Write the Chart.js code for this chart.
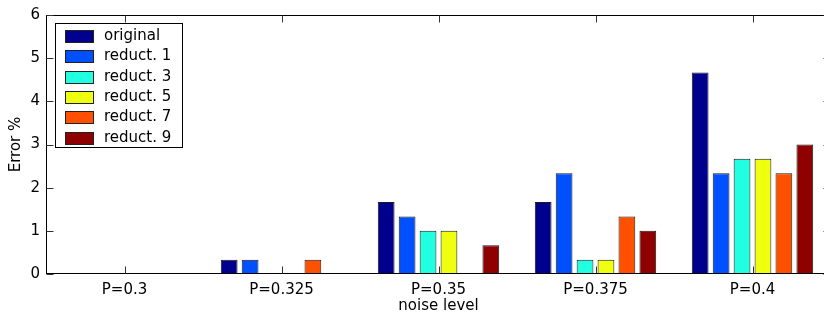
<!DOCTYPE html>
<html>
<head>
<meta charset="utf-8">
<script src="https://cdn.jsdelivr.net/npm/chart.js@4/dist/chart.umd.min.js"></script>
<style>
    html, body { margin: 0; padding: 0; background: #fff; overflow: hidden; }
    #wrap { position: absolute; left: 0; top: 0; width: 834px; height: 321px; }
</style>
</head>
<body>
<div id="wrap"><canvas id="chart" width="834" height="321"></canvas></div>
<script>
// Noise levels on the x axis
const categories = ['P=0.3', 'P=0.325', 'P=0.35', 'P=0.375', 'P=0.4'];

// Error % for each model
const original = [0, 0.333, 1.667, 1.667, 4.667];
const reduct1 = [0, 0.333, 1.333, 2.333, 2.333];
const reduct3 = [0, 0, 1, 0.333, 2.667];
const reduct5 = [0, 0, 1, 0.333, 2.667];
const reduct7 = [0, 0.333, 0, 1.333, 2.333];
const reduct9 = [0, 0, 0.667, 1, 3];

const seriesNames = ['original', 'reduct. 1', 'reduct. 3', 'reduct. 5', 'reduct. 7', 'reduct. 9'];
const seriesValues = [original, reduct1, reduct3, reduct5, reduct7, reduct9];
const seriesColors = ['#00008f', '#0050ff', '#20ffe0', '#efff10', '#ff5000', '#8f0000'];

const yTicks = [0, 1, 2, 3, 4, 5, 6];

const FONT = 'DejaVu Sans';

// Box round the plot, with matlab style ticks pointing inwards
const framePlugin = {
    id: 'frame',
    afterDatasetsDraw(chart) {
        const ctx = chart.ctx;
        const area = chart.chartArea;
        const xs = chart.scales.x;
        const ys = chart.scales.y;
        const l = Math.round(area.left) + 0.5;
        const r = Math.round(area.right) - 0.5;
        const t = Math.round(area.top) + 0.5;
        const b = Math.round(area.bottom) - 0.5;
        ctx.save();
        ctx.strokeStyle = '#000';
        ctx.lineWidth = 1;
        ctx.strokeRect(l, t, r - l, b - t);
        ctx.strokeStyle = '#333';
        ctx.beginPath();
        categories.forEach((c, i) => {
            const x = Math.round(xs.getPixelForValue(i)) + 0.5;
            ctx.moveTo(x, b); ctx.lineTo(x, b - 7);
            ctx.moveTo(x, t); ctx.lineTo(x, t + 7);
        });
        yTicks.forEach(v => {
            const y = Math.round(ys.getPixelForValue(v)) + 0.5;
            ctx.moveTo(l, y); ctx.lineTo(l + 7, y);
            ctx.moveTo(r, y); ctx.lineTo(r - 7, y);
        });
        ctx.stroke();
        ctx.restore();
    }
};

// Legend box in the top left corner of the plot
const legendPlugin = {
    id: 'boxLegend',
    afterDraw(chart) {
        const ctx = chart.ctx;
        const area = chart.chartArea;
        const x0 = area.left + 9;
        const y0 = area.top + 8;
        const w = 127;
        const h = 124;
        ctx.save();
        ctx.fillStyle = '#fff';
        ctx.fillRect(x0, y0, w, h);
        ctx.strokeStyle = '#000';
        ctx.lineWidth = 1;
        ctx.strokeRect(Math.round(x0) + 0.5, Math.round(y0) + 0.5, w, h);
        ctx.font = '15px "' + FONT + '"';
        ctx.textBaseline = 'middle';
        chart.data.datasets.forEach((ds, i) => {
            const sy = Math.round(y0 + 7 + i * 20.3);
            ctx.fillStyle = ds.backgroundColor;
            ctx.fillRect(x0 + 10, sy, 29, 13);
            ctx.strokeStyle = '#222';
            ctx.strokeRect(Math.round(x0 + 10) + 0.5, sy + 0.5, 28, 12);
            ctx.fillStyle = '#000';
            ctx.fillText(ds.label, x0 + 49, sy + 6.5);
        });
        ctx.restore();
    }
};

const datasets = seriesNames.map((name, i) => ({
    label: name,
    data: seriesValues[i],
    backgroundColor: seriesColors[i],
    borderColor: '#1a1a1a',
    borderWidth: 1,
    borderSkipped: 'start',
    categoryPercentage: 0.8,
    barPercentage: 0.8
}));

const chart = new Chart(document.getElementById('chart').getContext('2d'), {
    type: 'bar',
    data: {
        labels: categories,
        datasets: datasets
    },
    options: {
        responsive: false,
        animation: false,
        devicePixelRatio: 1,
        layout: {
            padding: { left: 0, top: 14, right: 3, bottom: 0 }
        },
        plugins: {
            legend: { display: false },
            tooltip: { enabled: false }
        },
        scales: {
            x: {
                offset: true,
                grid: { display: false, drawTicks: false },
                border: { display: false },
                ticks: {
                    color: '#000',
                    padding: 7,
                    maxRotation: 0,
                    font: { family: FONT, size: 15 }
                },
                title: {
                    display: true,
                    text: 'noise level',
                    color: '#000',
                    padding: { top: 0, bottom: 6 },
                    font: { family: FONT, size: 15 }
                },
                afterFit(scale) { scale.height = 47; }
            },
            y: {
                min: 0,
                max: 6,
                grid: { display: false, drawTicks: false },
                border: { display: false },
                afterBuildTicks(scale) {
                    scale.ticks = yTicks.map(v => ({ value: v }));
                },
                ticks: {
                    color: '#000',
                    padding: 6,
                    font: { family: FONT, size: 15 }
                },
                title: {
                    display: true,
                    text: 'Error %',
                    color: '#000',
                    padding: { top: 7, bottom: 0 },
                    font: { family: FONT, size: 15 }
                },
                afterFit(scale) { scale.width = 46; }
            }
        }
    },
    plugins: [framePlugin, legendPlugin]
});
</script>
</body>
</html>
